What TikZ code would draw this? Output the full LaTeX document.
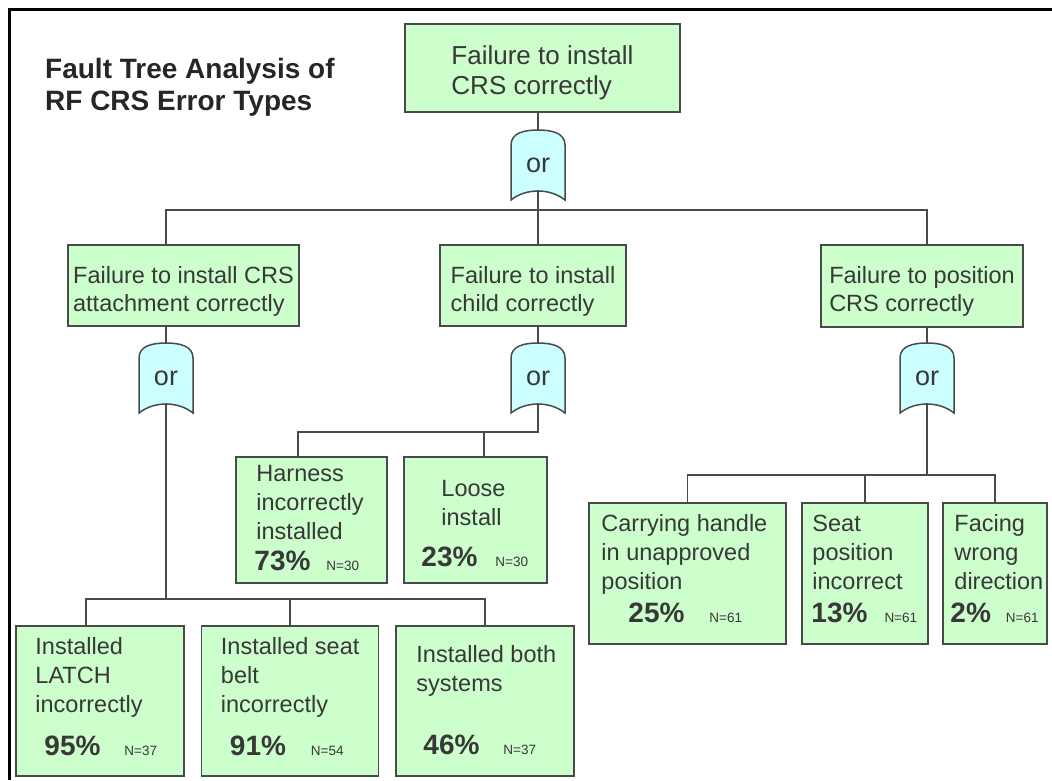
\documentclass[tikz,border=0pt]{standalone}
\usepackage{fontspec}
\setmainfont{Liberation Sans}
\usetikzlibrary{positioning}

\definecolor{boxgreen}{HTML}{CCFFCC}
\definecolor{gatecyan}{HTML}{CCFFFF}
\definecolor{edgegray}{HTML}{4A4A4A}
\definecolor{inkgray}{HTML}{383838}

\newcommand\rate[1]{{\fontsize{28}{30}\selectfont\bfseries #1}}
\newcommand\cnt[1]{{\fontsize{13.5}{15}\selectfont #1}}
\newcommand\lift{\rule{0pt}{28pt}}

\begin{document}
\begin{tikzpicture}[
    x=1pt, y=-1pt,
    fail/.style={rectangle, draw=edgegray, fill=boxgreen, line width=1.5pt, align=left, text=inkgray, inner sep=0pt, font=\fontsize{23.5}{28}\selectfont},
    leaf/.style={rectangle, draw=edgegray, fill=boxgreen, line width=1.5pt, inner sep=0pt},
    leaftext/.style={inner sep=0pt, align=left, text=inkgray, font=\fontsize{23.5}{29}\selectfont},
    gate/.style={inner sep=0pt, minimum width=54pt, minimum height=70pt, text=inkgray, font=\fontsize{27}{30}\selectfont},
    gateline/.style={draw=edgegray, fill=gatecyan, line width=1.5pt},
    link/.style={draw=edgegray, line width=1.5pt},
    title/.style={inner sep=0pt, align=left, text=black!85, font=\fontsize{28}{32}\selectfont\bfseries}
  ]
  \useasboundingbox (0,0) rectangle (1052,780);

  % Frame and title
  \draw[line width=3pt] (1052,9.7) -- (9.7,9.7) -- (9.7,780);
  \node[title, anchor=north west] (title) at (45,58) {Fault Tree Analysis of\\RF CRS Error Types};

  % Events
  \node[fail, minimum width=275pt, minimum height=88pt, font=\fontsize{26}{30}\selectfont] (top) at (542.5,68) {\lift Failure to install\\CRS correctly};
  \node[fail, minimum width=231pt, minimum height=81pt] (failAttach) at (183.5,285.5) {\lift Failure to install CRS\\attachment correctly};
  \node[fail, minimum width=186pt, minimum height=81pt] (failChild) at (533,285.5) {\lift Failure to install\\child correctly};
  \node[fail, minimum width=202pt, minimum height=82pt] (failPos) at (922,286) {\lift Failure to position\\CRS correctly};

  % OR gates
  \foreach \g/\x/\y in {g0/538/165, gA/166/378, gB/538/378, gC/927/378} {
    \path[gateline, shift={(\x,\y)}] (-27,35) -- (-27,-20) .. controls (-27,-32) and (-14,-35) .. (0,-35)
      .. controls (14,-35) and (27,-32) .. (27,-20) -- (27,35) .. controls (12,23) and (-12,23) .. (-27,35) -- cycle;
    \node[gate] (\g) at (\x,\y) {or};
  }

  % Basic events
  \node[leaf, minimum width=168pt, minimum height=150pt] (latch) at (100,701) {};
  \node[leaf, minimum width=177pt, minimum height=150pt] (belt) at (290,701) {};
  \node[leaf, minimum width=178pt, minimum height=150pt] (both) at (485,701) {};
  \node[leaf, minimum width=151pt, minimum height=126pt] (harness) at (311.5,520) {};
  \node[leaf, minimum width=143pt, minimum height=126pt] (loose) at (475.5,520) {};
  \node[leaf, minimum width=197pt, minimum height=141pt] (carry) at (687.5,573.5) {};
  \node[leaf, minimum width=126pt, minimum height=141pt] (seat) at (865,573.5) {};
  \node[leaf, minimum width=104pt, minimum height=141pt] (facing) at (995,573.5) {};

  \node[leaftext, below right=12.2pt and 20pt of latch.north west] (latchText)
    {Installed\\LATCH\\incorrectly\\[14pt]\hspace*{9pt}\rate{95\%}\hspace{24pt}\cnt{N=37}};
  \node[leaftext, below right=12.2pt and 20pt of belt.north west] (beltText)
    {Installed seat\\belt\\incorrectly\\[14pt]\hspace*{9pt}\rate{91\%}\hspace{25pt}\cnt{N=54}};
  \node[leaftext, below right=20.2pt and 21pt of both.north west] (bothText)
    {Installed both\\systems\\[34pt]\hspace*{7pt}\rate{46\%}\hspace{24pt}\cnt{N=37}};
  \node[leaftext, below right=9.2pt and 21pt of harness.north west] (harnessText)
    {Harness\\incorrectly\\installed\\[2pt]\hspace*{-2pt}\rate{73\%}\hspace{16pt}\cnt{N=30}};
  \node[leaftext, below right=24.2pt and 18pt of loose.north west] (looseText)
    {\hspace*{20pt}Loose\\\hspace*{20pt}install\\[12pt]\rate{23\%}\hspace{18pt}\cnt{N=30}};
  \node[leaftext, below right=12.2pt and 13pt of carry.north west] (carryText)
    {Carrying handle\\in unapproved\\position\\[4pt]\hspace*{27pt}\rate{25\%}\hspace{25pt}\cnt{N=61}};
  \node[leaftext, below right=12.2pt and 11pt of seat.north west] (seatText)
    {Seat\\position\\incorrect\\[4pt]\hspace*{-1pt}\rate{13\%}\hspace{17pt}\cnt{N=61}};
  \node[leaftext, below right=12.2pt and 12pt of facing.north west] (facingText)
    {Facing\\wrong\\direction\\[4pt]\hspace*{-4pt}\rate{2\%}\hspace{15pt}\cnt{N=61}};

  % Top level
  \coordinate (busTop) at (538,210);
  \draw[link] (top.south -| g0) -- (g0.north);
  \draw[link] ([yshift=10pt]g0.south) -- (busTop);
  \draw[link] (failAttach.north -| gA) -- (busTop -| gA) -- (busTop -| gC) -- (failPos.north -| gC);
  \draw[link] (busTop -| gB) -- (failChild.north -| gB);
  \foreach \g/\b in {gA/failAttach, gB/failChild, gC/failPos}
    \draw[link] (\b.south -| \g) -- (\g.north);

  % Attachment branch
  \coordinate (busA) at (86,599);
  \draw[link] ([yshift=10pt]gA.south) -- (busA -| gA);
  \draw[link] (latch.north -| busA) -- (busA) -- (busA -| both) -- (both.north);
  \draw[link] (busA -| belt) -- (belt.north);

  % Child branch
  \coordinate (busB) at (298,432);
  \coordinate (busB2) at (484,432);
  \draw[link] ([yshift=10pt]gB.south) -- (busB -| gB) -- (busB) -- (harness.north -| busB);
  \draw[link] (busB2) -- (loose.north -| busB2);

  % Position branch
  \coordinate (busC) at (927,475);
  \draw[link] ([yshift=10pt]gC.south) -- (busC);
  \draw[link] (carry.north) -- (busC -| carry) -- (busC -| facing) -- (facing.north);
  \draw[link] (busC -| seat) -- (seat.north);
\end{tikzpicture}
\end{document}
